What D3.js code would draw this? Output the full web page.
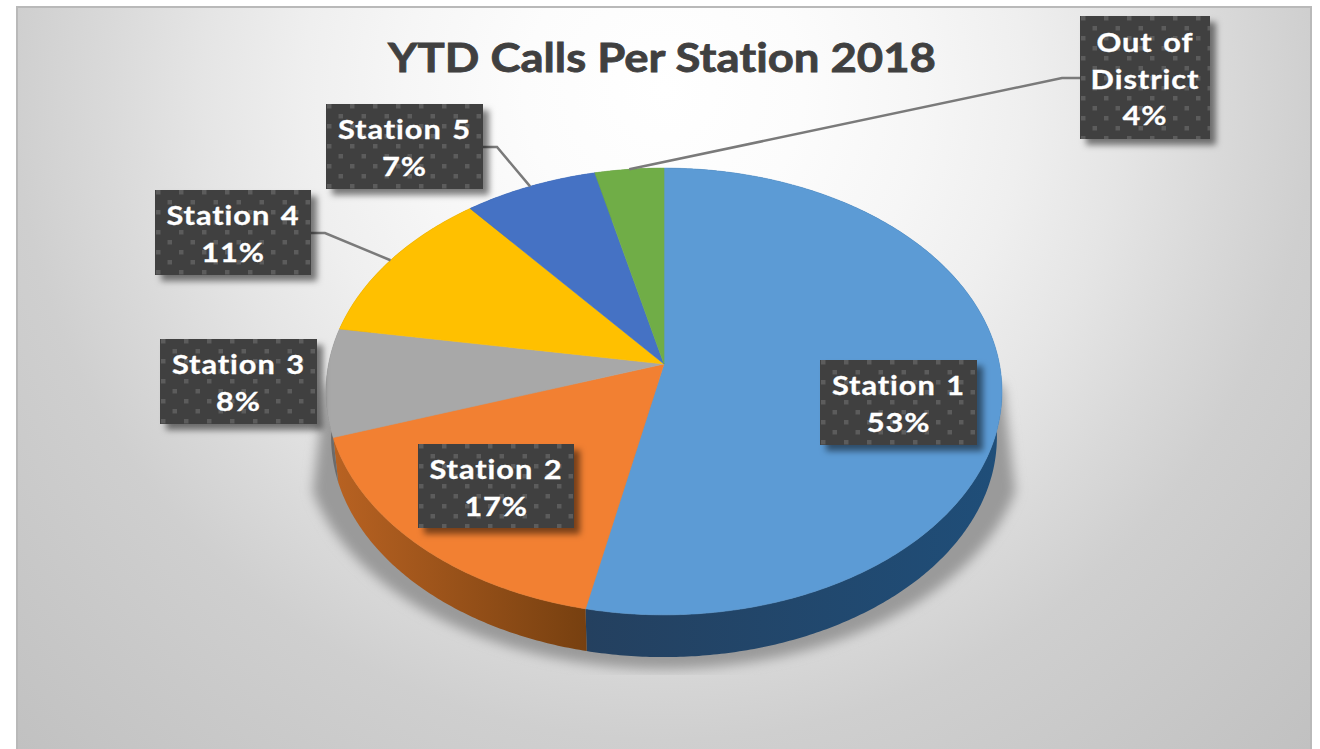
<!DOCTYPE html>
<html>
<head>
<meta charset="utf-8">
<script src="https://cdn.jsdelivr.net/npm/d3@7/dist/d3.min.js"></script>
<style>
html,body{margin:0;padding:0;background:#fff;overflow:hidden}
svg{display:block}
text{font-family:Lato,"Open Sans",sans-serif;font-weight:700;font-variant-ligatures:none}
</style>
</head>
<body>
<svg id="c" width="1320" height="749"></svg>
<script>
// ---- data ----
const titleText = "YTD Calls Per Station 2018";
const categories = ["Station 1","Station 2","Station 3","Station 4","Station 5","Out of District"];
const shares = [53.3,16.5,7.8,11.49,7.2,3.71];
const faceColors = ["#5B9BD5","#F28031","#A8A8A8","#FFC000","#4472C4","#70AD47"];
const wallStart = ["#1F4E79","#B86222","#6b6b6b","#997300","#2a4a85","#436a2b"];
const wallEnd = ["#24405F","#774010","#6b6b6b","#997300","#2a4a85","#436a2b"];

// ---- layout ----
const W=1320,H=749;
const centre={x:664,y:364}, k=0.123, A=335.4, B=220;
const wallDepth=46, wallScale=0.985;
const boxes=[
 {x:820,y:360,w:157,h:85,base:[35,72],lines:["Station 1"]},
 {x:418,y:444,w:156,h:84,base:[35,72],lines:["Station 2"]},
 {x:160,y:339,w:157,h:85,base:[35,72],lines:["Station 3"]},
 {x:155,y:190,w:156,h:85,base:[35,72],lines:["Station 4"],leader:{y:43,ex:14}},
 {x:326,y:104,w:157,h:85,base:[35,72],lines:["Station 5"],leader:{y:43,ex:14}},
 {x:1080,y:16,w:130,h:123,base:[36,73,109],lines:["Out of","District"],leader:{y:62,ex:-18,left:true}}
];

const svg=d3.select("#c");
const defs=svg.append("defs");

const bg=defs.append("radialGradient").attr("id","bg").attr("gradientUnits","userSpaceOnUse")
 .attr("cx",664).attr("cy",90).attr("r",1000);
[[0,"#ffffff"],[0.14,"#fcfcfc"],[0.26,"#f6f6f6"],[0.36,"#efefef"],[0.46,"#e5e5e5"],[0.56,"#d9d9d9"],[0.65,"#cfcfcf"],[1,"#bdbdbd"]]
 .forEach(s=>bg.append("stop").attr("offset",s[0]).attr("stop-color",s[1]));

const pat=defs.append("pattern").attr("id","dots").attr("patternUnits","userSpaceOnUse")
 .attr("width",23).attr("height",20);
pat.append("rect").attr("width",23).attr("height",20).attr("fill","#404040");
[[1,0],[12.5,10]].forEach(p=>pat.append("rect").attr("x",p[0]).attr("y",p[1]).attr("width",4.5).attr("height",4.5).attr("fill","#5c5c5c"));

const sh=defs.append("filter").attr("id","boxShadow").attr("x","-20%").attr("y","-20%").attr("width","150%").attr("height","150%");
sh.append("feDropShadow").attr("dx",6).attr("dy",6).attr("stdDeviation",3).attr("flood-color","#000").attr("flood-opacity",0.5);
const blur=defs.append("filter").attr("id","blur").attr("x","-10%").attr("y","-10%").attr("width","120%").attr("height","120%");
blur.append("feGaussianBlur").attr("stdDeviation",6);
const soft=defs.append("filter").attr("id","soft").attr("x","-5%").attr("y","-5%").attr("width","110%").attr("height","110%");
soft.append("feGaussianBlur").attr("stdDeviation",0.6);
defs.append("clipPath").attr("id","shadowClip").append("rect").attr("x",0).attr("y",0).attr("width",W).attr("height",675);

// panel
svg.append("rect").attr("x",16).attr("y",6).attr("width",1296).attr("height",H-6).attr("fill","#b9b9b9");
svg.append("rect").attr("x",18).attr("y",8).attr("width",1292).attr("height",H-8).attr("fill","url(#bg)");

// pie geometry through d3.pie and a perspective projection of the unit disc
const pie=d3.pie().sort(null).value(d=>d)(shares);
function rim(a){
  const X=Math.sin(a),Y=-Math.cos(a),w=1-k*Y;
  return [centre.x+A*X/w,centre.y+B*Y/w];
}
function lower(p){
  return [centre.x+(p[0]-centre.x)*wallScale,centre.y+wallDepth+(p[1]-centre.y)*wallScale];
}
function arcPts(a0,a1){
  const n=Math.max(4,Math.ceil((a1-a0)/0.01));
  return d3.range(n+1).map(i=>rim(a0+(a1-a0)*i/n));
}
const line=d3.line().curve(d3.curveLinear);

// ground shadow: the lower part of an enlarged rim, tapering up behind the pie
const ringAll=arcPts(0,2*Math.PI)
  .map(p=>[centre.x+(p[0]-centre.x)*1.07,centre.y+44+(p[1]-centre.y)*1.04])
  .filter(p=>p[1]>=490);
svg.append("g").attr("clip-path","url(#shadowClip)")
 .append("path")
 .attr("d",line([[1003,385]].concat(ringAll,[[325,385]]))+"Z")
 .attr("fill","#9a9a9a").attr("filter","url(#blur)");

// walls
pie.forEach((s,i)=>{
  const top=arcPts(s.startAngle,s.endAngle);
  const bot=top.map(lower).reverse();
  const gid="wall"+i;
  const ex=d3.extent(top,p=>p[0]);
  const g=defs.append("linearGradient").attr("id",gid).attr("gradientUnits","userSpaceOnUse")
    .attr("x1",i===1?ex[0]:ex[1]).attr("x2",i===1?ex[1]:ex[0]).attr("y1",0).attr("y2",0);
  g.append("stop").attr("offset",0).attr("stop-color",wallStart[i]);
  g.append("stop").attr("offset",1).attr("stop-color",wallEnd[i]);
  svg.append("path").attr("d",line(top.concat(bot))+"Z").attr("fill",`url(#${gid})`);
});

// faces
pie.forEach((s,i)=>{
  svg.append("path").attr("d",line([[centre.x,centre.y]].concat(arcPts(s.startAngle,s.endAngle)))+"Z")
    .attr("fill",faceColors[i]).attr("stroke",faceColors[i]).attr("stroke-width",0.6).attr("filter","url(#soft)");
});

// leader lines
boxes.forEach((b,i)=>{
  if(!b.leader) return;
  const s=pie[i];
  const m=rim((s.startAngle+s.endAngle)/2);
  const x0=b.leader.left?b.x:b.x+b.w;
  const y0=b.y+b.leader.y;
  svg.append("path").attr("d",line([[x0,y0],[x0+b.leader.ex,y0],m]))
    .attr("fill","none").attr("stroke","#7a7a7a").attr("stroke-width",2.5);
});

// title
svg.append("text").attr("x",662).attr("y",72).attr("text-anchor","middle")
 .attr("font-size",41).attr("fill","#404040").attr("stroke","#404040").attr("stroke-width",0.8)
 .attr("textLength",548).attr("lengthAdjust","spacingAndGlyphs").text(titleText);

// data labels, widened like the stretched original
boxes.forEach((b,i)=>{
  const g=svg.append("g").attr("transform",`translate(${b.x},${b.y})`);
  g.append("rect").attr("width",b.w).attr("height",b.h).attr("fill","url(#dots)").attr("filter","url(#boxShadow)");
  const lines=b.lines.concat([Math.round(shares[i])+"%"]);
  lines.forEach((t,j)=>{
    g.append("text").attr("text-anchor","middle")
     .attr("transform",`translate(${b.w/2},${b.base[j]}) scale(1.14,1)`)
     .attr("font-size",27).attr("letter-spacing",0.8).attr("word-spacing",2)
     .attr("fill","#fff").attr("stroke","#fff").attr("stroke-width",0.3).text(t);
  });
});
</script>
</body>
</html>
